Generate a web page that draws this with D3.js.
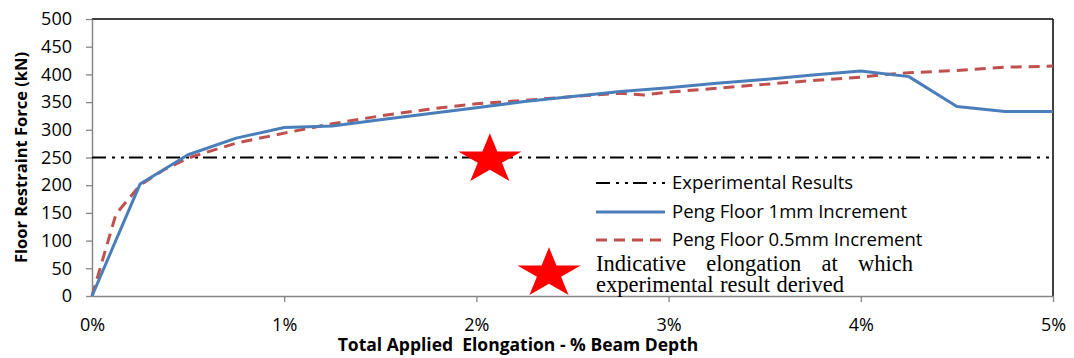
<!DOCTYPE html>
<html>
<head>
<meta charset="utf-8">
<script src="https://cdn.jsdelivr.net/npm/d3@7"></script>
<style>
  html, body { margin: 0; padding: 0; background: #fff; }
  svg { display: block; }
</style>
</head>
<body>
<svg id="chart" width="1074" height="358"></svg>
<script>
// Elongation (% of beam depth) and restraint force (kN)
const peng1mmX = [0, 0.25, 0.5, 0.75, 1.0, 1.25, 1.5, 1.75, 2.0, 2.25, 2.5, 2.75, 3.0, 3.25, 3.5, 3.75, 4.0, 4.25, 4.5, 4.75, 5.0];
const peng1mmY = [0, 202, 255, 285, 304, 307, 318, 329, 340, 351, 360, 369, 376, 384, 391, 399, 406, 396, 342, 333, 333];

const peng05X = [0, 0.125, 0.25, 0.375, 0.5, 0.75, 1.0, 1.25, 1.5, 1.75, 2.0, 2.25, 2.5, 2.75, 2.875, 3.0, 3.25, 3.5, 3.75, 4.0, 4.125, 4.25, 4.5, 4.75, 5.0];
const peng05Y = [0, 148, 200, 228, 249, 276, 294, 311, 325, 337, 347, 353, 360, 366, 363, 368, 375, 382, 389, 395, 400, 403, 407, 413, 415];

const experimentalForce = 250;
const indicativePoint = { x: 2.07, y: 246 };

const xTicks = [0, 1, 2, 3, 4, 5];
const xTickLabels = ["0%", "1%", "2%", "3%", "4%", "5%"];
const yTicks = [0, 50, 100, 150, 200, 250, 300, 350, 400, 450, 500];

const legendLabels = ["Experimental Results", "Peng Floor 1mm Increment", "Peng Floor 0.5mm Increment"];
const noteLines = [["Indicative", "elongation", "at", "which"], ["experimental", "result", "derived"]];

const W = 1074, H = 358;
const margin = { top: 19, right: 21, bottom: 62, left: 92 };
const iw = W - margin.left - margin.right;
const ih = H - margin.top - margin.bottom;

const svg = d3.select("#chart");
const g = svg.append("g").attr("transform", `translate(${margin.left},${margin.top})`);

const x = d3.scaleLinear().domain([0, 5]).range([0, iw]);
const y = d3.scaleLinear().domain([0, 500]).range([ih, 0]);

const sans = "'Open Sans', 'Liberation Sans', sans-serif";
const serif = "'Liberation Serif', 'DejaVu Serif', serif";
const axisGrey = "#868686";
const blue = "#4A7EBB";
const red = "#C0504D";
const dashDotDot = "14,6,3,6,3,5";

// plot frame: black top and right edges
g.append("line").attr("x1", 0).attr("x2", iw).attr("y1", 0).attr("y2", 0)
  .attr("stroke", "#000").attr("stroke-width", 1.5);
g.append("line").attr("x1", iw).attr("x2", iw).attr("y1", 0).attr("y2", ih)
  .attr("stroke", "#000").attr("stroke-width", 1.5);

// axes
const yAxis = g.append("g")
  .call(d3.axisLeft(y).tickValues(yTicks).tickSize(6).tickSizeOuter(0).tickPadding(14));
const xAxis = g.append("g").attr("transform", `translate(0,${ih})`)
  .call(d3.axisBottom(x).tickValues(xTicks).tickFormat((d, i) => xTickLabels[i])
    .tickSize(6).tickSizeOuter(0).tickPadding(16));

[yAxis, xAxis].forEach(a => {
  a.select(".domain").attr("stroke", axisGrey).attr("stroke-width", 1.5);
  a.selectAll(".tick line").attr("stroke", axisGrey).attr("stroke-width", 1.3);
  a.selectAll(".tick text").attr("fill", "#000")
    .style("font-family", sans).style("font-size", "18px");
});
xAxis.selectAll(".tick line").filter(d => d === 0).remove();

// experimental reference force
g.append("line")
  .attr("x1", x(0)).attr("x2", x(5))
  .attr("y1", y(experimentalForce)).attr("y2", y(experimentalForce))
  .attr("stroke", "#000").attr("stroke-width", 2)
  .attr("stroke-dasharray", dashDotDot);

const line = d3.line().x(d => x(d[0])).y(d => y(d[1]));

g.append("path")
  .datum(peng05X.map((v, i) => [v, peng05Y[i]]))
  .attr("d", line).attr("fill", "none")
  .attr("stroke", red).attr("stroke-width", 3).attr("stroke-dasharray", "11,7");

g.append("path")
  .datum(peng1mmX.map((v, i) => [v, peng1mmY[i]]))
  .attr("d", line).attr("fill", "none")
  .attr("stroke", blue).attr("stroke-width", 3).attr("stroke-linejoin", "round");

// five-pointed star, stretched horizontally
function starPath(cx, cy, rx, ry) {
  const pts = [];
  const inner = 0.382;
  for (let k = 0; k < 10; k++) {
    const a = -Math.PI / 2 + k * Math.PI / 5;
    const r = k % 2 === 0 ? 1 : inner;
    pts.push([cx + Math.cos(a) * r * rx, cy + Math.sin(a) * r * ry]);
  }
  return "M" + pts.map(p => p.join(",")).join("L") + "Z";
}

g.append("path")
  .attr("d", starPath(x(indicativePoint.x), y(indicativePoint.y), 33.3, 26.4))
  .attr("fill", "#FF0000");

// legend
const legend = svg.append("g");
const legendRows = [
  { y: 183, dash: dashDotDot, color: "#000", width: 2 },
  { y: 212, dash: null, color: blue, width: 3 },
  { y: 240, dash: "11,7", color: red, width: 3 }
];
legendRows.forEach((r, i) => {
  legend.append("line").attr("x1", 596).attr("x2", 665).attr("y1", r.y).attr("y2", r.y)
    .attr("stroke", r.color).attr("stroke-width", r.width)
    .attr("stroke-dasharray", r.dash);
  legend.append("text").attr("x", 672).attr("y", r.y + 5.5)
    .style("font-family", sans).style("font-size", "18.5px").attr("fill", "#000")
    .text(legendLabels[i]);
});

legend.append("path").attr("d", starPath(549, 273.7, 33.3, 26.4)).attr("fill", "#FF0000");

// justified note text
const noteLeft = 596, noteRight = 913;
noteLines.forEach((words, li) => {
  const baseY = 270.5 + li * 21.5;
  const texts = words.map(w => legend.append("text")
    .attr("y", baseY)
    .style("font-family", serif).style("font-size", "22.5px").attr("fill", "#000")
    .text(w));
  const widths = texts.map(t => t.node().getComputedTextLength());
  let gap;
  if (li === 0) {
    gap = (noteRight - noteLeft - d3.sum(widths)) / (words.length - 1);
  } else {
    gap = 6.5;
  }
  let cx = noteLeft;
  texts.forEach((t, i) => { t.attr("x", cx); cx += widths[i] + gap; });
});

// axis titles
svg.append("text")
  .attr("transform", `translate(27,${margin.top + ih / 2}) rotate(-90)`)
  .attr("text-anchor", "middle")
  .style("font-family", sans).style("font-size", "16.5px").style("font-weight", "bold")
  .text("Floor Restraint Force (kN)");

svg.append("text")
  .attr("x", 518).attr("y", 351)
  .attr("text-anchor", "middle")
  .attr("xml:space", "preserve")
  .style("white-space", "pre")
  .style("font-family", sans).style("font-size", "17.5px").style("font-weight", "bold")
  .text("Total Applied  Elongation - % Beam Depth");
</script>
</body>
</html>
